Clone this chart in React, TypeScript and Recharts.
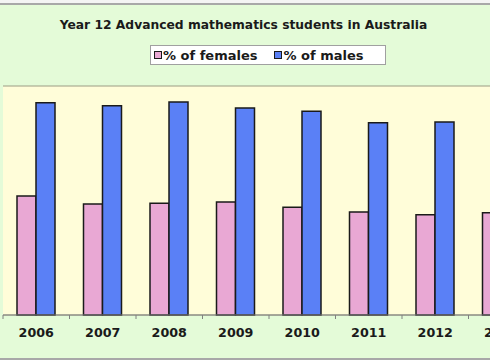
import React from 'react'
import { BarChart, Bar, XAxis, YAxis, CartesianGrid, Legend } from 'recharts'

const years = ['2006', '2007', '2008', '2009', '2010', '2011', '2012', '2013']
const femalePct = [7.8, 7.27, 7.32, 7.4, 7.05, 6.75, 6.57, 6.7]
const malePct = [13.9, 13.7, 13.95, 13.56, 13.34, 12.6, 12.64, 12.5]
const yTicks = [0, 5, 10, 15]

const data = years.map((year, i) => ({ year, female: femalePct[i], male: malePct[i] }))

const FONT = '"DejaVu Sans", Verdana, sans-serif'
const PINK = '#e9a8d4'
const BLUE = '#5a80f6'
const CHART_W = 560
const MARGIN = { top: 86, right: 25, bottom: 0, left: 3 }
const BAND = (CHART_W - MARGIN.left - MARGIN.right) / years.length

const YearTick = ({ x, y, payload }: { x: number; y: number; payload: { value: string } }) => (
  <g>
    <line x1={x - BAND / 2} x2={x - BAND / 2} y1={315} y2={319} stroke="#808080" />
    <text x={x} y={337} textAnchor="middle" fontSize={12.7} fontWeight={700} fill="#1a1a1a" fontFamily={FONT}>
      {payload.value}
    </text>
  </g>
)

const LegendBox = () => (
  <div
    style={{
      position: 'absolute',
      left: 150,
      top: 45,
      width: 236,
      height: 20,
      background: '#fff',
      border: '1px solid #a0a0a0',
      display: 'flex',
      alignItems: 'center',
      fontFamily: FONT,
      fontSize: 13,
      fontWeight: 700,
      color: '#1a1a1a',
      boxSizing: 'border-box',
    }}
  >
    {[
      { label: '% of females', color: PINK },
      { label: '% of males', color: BLUE },
    ].map((item, i) => (
      <span key={item.label} style={{ display: 'flex', alignItems: 'center', marginLeft: i === 0 ? 3 : 17 }}>
        <span style={{ width: 6, height: 6, background: item.color, border: '1px solid #1a1a1a', marginRight: 1 }} />
        {item.label}
      </span>
    ))}
  </div>
)

export default function App() {
  return (
    <div style={{ position: 'fixed', left: 0, top: 0, width: 490, height: 360, overflow: 'hidden', background: '#f4f4f4' }}>
      <div
        style={{
          position: 'absolute',
          left: -10,
          top: 3,
          width: 520,
          height: 353,
          background: '#e4fbd8',
          borderTop: '2px solid #a8a8a8',
          borderBottom: '2px solid #a8a8a8',
        }}
      />
      <div
        style={{
          position: 'absolute',
          left: 0,
          top: 18,
          width: 487,
          textAlign: 'center',
          fontFamily: FONT,
          fontSize: 12.3,
          fontWeight: 700,
          color: '#1a1a1a',
        }}
      >
        Year 12 Advanced mathematics students in Australia
      </div>
      <div style={{ position: 'absolute', left: 0, top: 0 }}>
        <BarChart width={CHART_W} height={360} data={data} margin={MARGIN} barGap={0}>
          <CartesianGrid vertical={false} fill="#fffdd9" stroke="#9c9c84" />
          <XAxis
            dataKey="year"
            height={45}
            axisLine={{ stroke: '#808080' }}
            tickLine={false}
            tick={YearTick as any}
            interval={0}
          />
          <YAxis width={0} domain={[0, 15]} ticks={yTicks} tick={false} tickLine={false} axisLine={{ stroke: '#808080' }} />
          <Legend content={() => null} />
          <Bar dataKey="female" name="% of females" fill={PINK} stroke="#1a1a1a" strokeWidth={1.5} barSize={19} isAnimationActive={false} />
          <Bar dataKey="male" name="% of males" fill={BLUE} stroke="#1a1a1a" strokeWidth={1.5} barSize={19} isAnimationActive={false} />
        </BarChart>
      </div>
      <LegendBox />
    </div>
  )
}
